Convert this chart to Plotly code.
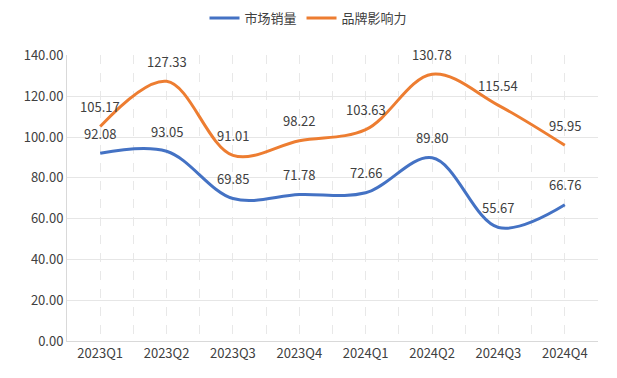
import plotly.graph_objects as go

categories = ["2023Q1", "2023Q2", "2023Q3", "2023Q4", "2024Q1", "2024Q2", "2024Q3", "2024Q4"]
sales = [92.08, 93.05, 69.85, 71.78, 72.66, 89.80, 55.67, 66.76]
brand = [105.17, 127.33, 91.01, 98.22, 103.63, 130.78, 115.54, 95.95]
y_ticks = [0, 20, 40, 60, 80, 100, 120, 140]

xs = list(range(len(categories)))
FONT = "Microsoft YaHei, Noto Sans CJK SC, sans-serif"
BLUE = "#4472C4"
ORANGE = "#ED7D31"

fig = go.Figure()
fig.add_trace(go.Scatter(x=xs, y=sales, name="市场销量", mode="lines",
                         line=dict(color=BLUE, width=3, shape="spline", smoothing=1)))
fig.add_trace(go.Scatter(x=xs, y=brand, name="品牌影响力", mode="lines",
                         line=dict(color=ORANGE, width=3, shape="spline", smoothing=1)))

annotations = []
for series in (sales, brand):
    for x, v in zip(xs, series):
        annotations.append(dict(x=x, y=v, text=f"{v:.2f}", showarrow=False, yshift=20,
                                font=dict(family=FONT, size=13, color="#404040")))

fig.update_layout(
    width=617, height=378,
    margin=dict(l=67, r=19, t=47, b=37),
    paper_bgcolor="white", plot_bgcolor="white",
    font=dict(family=FONT, size=13, color="#404040"),
    showlegend=True,
    legend=dict(orientation="h", x=0.5, xanchor="center", xref="container",
                y=1 - 18 / 378, yanchor="middle", yref="container",
                font=dict(size=13, color="#404040"), itemwidth=30,
                tracegroupgap=0),
    annotations=annotations,
    xaxis=dict(range=[-0.5, len(categories) - 0.5], tickvals=xs, ticktext=categories,
               showgrid=True, gridcolor="#E8E8E8", griddash="dash", gridwidth=1,
               minor=dict(tick0=-0.5, dtick=1, showgrid=True, gridcolor="#E8E8E8", griddash="dash"),
               showline=True, linecolor="#D9D9D9", linewidth=1, zeroline=False,
               ticks="", tickfont=dict(size=13, color="#404040")),
    yaxis=dict(range=[0, 140], tickvals=y_ticks, ticktext=[f"{t:.2f}" for t in y_ticks],
               showgrid=True, gridcolor="#E6E6E6", gridwidth=1,
               showline=True, linecolor="#D9D9D9", linewidth=1, zeroline=False,
               ticks="", ticklen=0, tickfont=dict(size=13, color="#404040")),
)

fig.write_html("out.html", config={"displayModeBar": False},
               post_script="document.body.style.margin='0';")
